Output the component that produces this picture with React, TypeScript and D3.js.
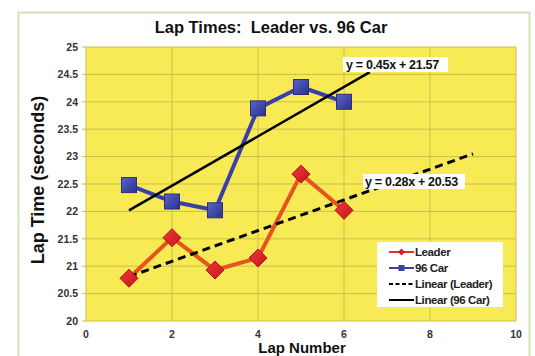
import React from "react";
import * as d3 from "d3";

// Lap numbers and lap times (seconds)
const laps = [1, 2, 3, 4, 5, 6];
const leaderTimes = [20.78, 21.52, 20.93, 21.15, 22.68, 22.02];
const car96Times = [22.48, 22.18, 22.02, 23.88, 24.27, 24.0];

// Linear trendlines: slope, intercept and the x span they are drawn over
const leaderTrend = { slope: 0.28, intercept: 20.53, x0: 1, x1: 9 };
const car96Trend = { slope: 0.45, intercept: 21.57, x0: 1, x1: 6.6 };

const xTicks = [0, 2, 4, 6, 8, 10];
const yTicks = [20, 20.5, 21, 21.5, 22, 22.5, 23, 23.5, 24, 24.5, 25];

const W = 535;
const H = 356;
const font = "Arial, 'Liberation Sans', Helvetica, sans-serif";

export default function App() {
  const x = d3.scaleLinear().domain([0, 10]).range([86, 516]);
  const y = d3.scaleLinear().domain([20, 25]).range([321, 47]);

  const line = d3
    .line<[number, number]>()
    .x((d) => x(d[0]))
    .y((d) => y(d[1]));

  const leaderPts: [number, number][] = laps.map((l, i) => [l, leaderTimes[i]]);
  const carPts: [number, number][] = laps.map((l, i) => [l, car96Times[i]]);

  const trendPts = (t: typeof leaderTrend): [number, number][] => [
    [t.x0, t.slope * t.x0 + t.intercept],
    [t.x1, t.slope * t.x1 + t.intercept],
  ];

  const diamond = (cx: number, cy: number, r: number) =>
    `M${cx},${cy - r}L${cx + r},${cy}L${cx},${cy + r}L${cx - r},${cy}Z`;

  const legendItems = [
    { label: "Leader", color: "#e03030", dash: "", marker: "d" },
    { label: "96 Car", color: "#3a40a8", dash: "", marker: "s" },
    { label: "Linear (Leader)", color: "#000", dash: "4,2.5", marker: "" },
    { label: "Linear (96 Car)", color: "#000", dash: "", marker: "" },
  ];

  return (
    <svg
      width={W}
      height={H}
      style={{ position: "absolute", left: 0, top: 0, background: "#fff" }}
    >
      <defs>
        <linearGradient id="sqGrad" x1="0" y1="0" x2="1" y2="1">
          <stop offset="0" stopColor="#5a63c8" />
          <stop offset="1" stopColor="#2a318f" />
        </linearGradient>
        <linearGradient id="dmGrad" x1="0" y1="0" x2="1" y2="1">
          <stop offset="0" stopColor="#ee3a3a" />
          <stop offset="1" stopColor="#c4141c" />
        </linearGradient>
      </defs>
      <rect x={0} y={0} width={W} height={H} fill="#fff" />
      {/* chart frame */}
      <rect
        x={18.5}
        y={12.5}
        width={511}
        height={360}
        fill="#fff"
        stroke="#d5e3b5"
        strokeWidth={2}
      />
      <text
        x={271}
        y={32.5}
        textAnchor="middle"
        fontFamily={font}
        fontWeight="bold"
        fontSize={16.5}
        fill="#111"
      >
        Lap Times:{"\u00a0\u00a0"}Leader vs. 96 Car
      </text>

      {/* plot area */}
      <rect
        x={x(0)}
        y={y(25)}
        width={x(10) - x(0)}
        height={y(20) - y(25)}
        fill="#f7ea55"
      />
      {yTicks.map((t) => (
        <line
          key={"gy" + t}
          x1={x(0) - 4}
          x2={x(10)}
          y1={y(t)}
          y2={y(t)}
          stroke="#cabe4c"
          strokeWidth={1}
        />
      ))}
      {xTicks.map((t) => (
        <line
          key={"gx" + t}
          x1={x(t)}
          x2={x(t)}
          y1={y(25)}
          y2={y(20)}
          stroke="#cabe4c"
          strokeWidth={1}
        />
      ))}

      {/* tick labels */}
      {yTicks.map((t) => (
        <text
          key={"ty" + t}
          x={78}
          y={y(t) + 3.8}
          textAnchor="end"
          fontFamily={font}
          fontWeight="bold"
          fontSize={10.5}
          fill="#333"
        >
          {String(t)}
        </text>
      ))}
      {xTicks.map((t) => (
        <text
          key={"tx" + t}
          x={x(t)}
          y={338}
          textAnchor="middle"
          fontFamily={font}
          fontWeight="bold"
          fontSize={10.5}
          fill="#333"
        >
          {String(t)}
        </text>
      ))}

      {/* axis titles */}
      <text
        transform={`translate(44, 180) rotate(-90)`}
        textAnchor="middle"
        fontFamily={font}
        fontWeight="bold"
        fontSize={18}
        fill="#111"
      >
        Lap Time (seconds)
      </text>
      <text
        x={302}
        y={353}
        textAnchor="middle"
        fontFamily={font}
        fontWeight="bold"
        fontSize={15}
        fill="#111"
      >
        Lap Number
      </text>

      {/* series lines */}
      <path d={line(carPts) || ""} fill="none" stroke="#3a40a8" strokeWidth={4} strokeLinejoin="round" />
      <path d={line(leaderPts) || ""} fill="none" stroke="#e8521c" strokeWidth={4} strokeLinejoin="round" />

      {/* trendlines */}
      <path d={line(trendPts(car96Trend)) || ""} fill="none" stroke="#000" strokeWidth={2.5} />
      <path
        d={line(trendPts(leaderTrend)) || ""}
        fill="none"
        stroke="#000"
        strokeWidth={3}
        strokeDasharray="8,5"
      />

      {/* markers */}
      {carPts.map((p, i) => (
        <rect
          key={"sq" + i}
          x={x(p[0]) - 7.5}
          y={y(p[1]) - 7.5}
          width={15}
          height={15}
          fill="url(#sqGrad)"
          stroke="#2a2f80"
          strokeWidth={1}
        />
      ))}
      {leaderPts.map((p, i) => (
        <path
          key={"dm" + i}
          d={diamond(x(p[0]), y(p[1]), 9)}
          fill="url(#dmGrad)"
          stroke="#b01018"
          strokeWidth={1}
        />
      ))}

      {/* trendline equations */}
      <rect x={343} y={57} width={105} height={15} fill="#fff" />
      <text x={346} y={68.5} fontFamily={font} fontWeight="bold" fontSize={12.5} fill="#111" letterSpacing={-0.3}>
        y = 0.45x + 21.57
      </text>
      <rect x={363} y={174} width={102} height={15} fill="#fff" />
      <text x={365} y={185.5} fontFamily={font} fontWeight="bold" fontSize={12.5} fill="#111" letterSpacing={-0.3}>
        y = 0.28x + 20.53
      </text>

      {/* legend */}
      <rect x={377} y={242} width={126} height={65} fill="#fff" />
      {legendItems.map((item, i) => {
        const cy = 252 + i * 16;
        return (
          <g key={"lg" + i}>
            <line
              x1={389}
              x2={414}
              y1={cy}
              y2={cy}
              stroke={item.color}
              strokeWidth={2}
              strokeDasharray={item.dash || undefined}
            />
            {item.marker === "d" && <path d={diamond(401.5, cy, 3.5)} fill="#d42028" />}
            {item.marker === "s" && <rect x={398.5} y={cy - 3} width={6} height={6} fill="#3a40a8" />}
            <text
              x={415}
              y={cy + 4}
              fontFamily={font}
              fontWeight="bold"
              fontSize={11.5}
              fill="#222"
              letterSpacing={-0.4}
            >
              {item.label}
            </text>
          </g>
        );
      })}
    </svg>
  );
}
